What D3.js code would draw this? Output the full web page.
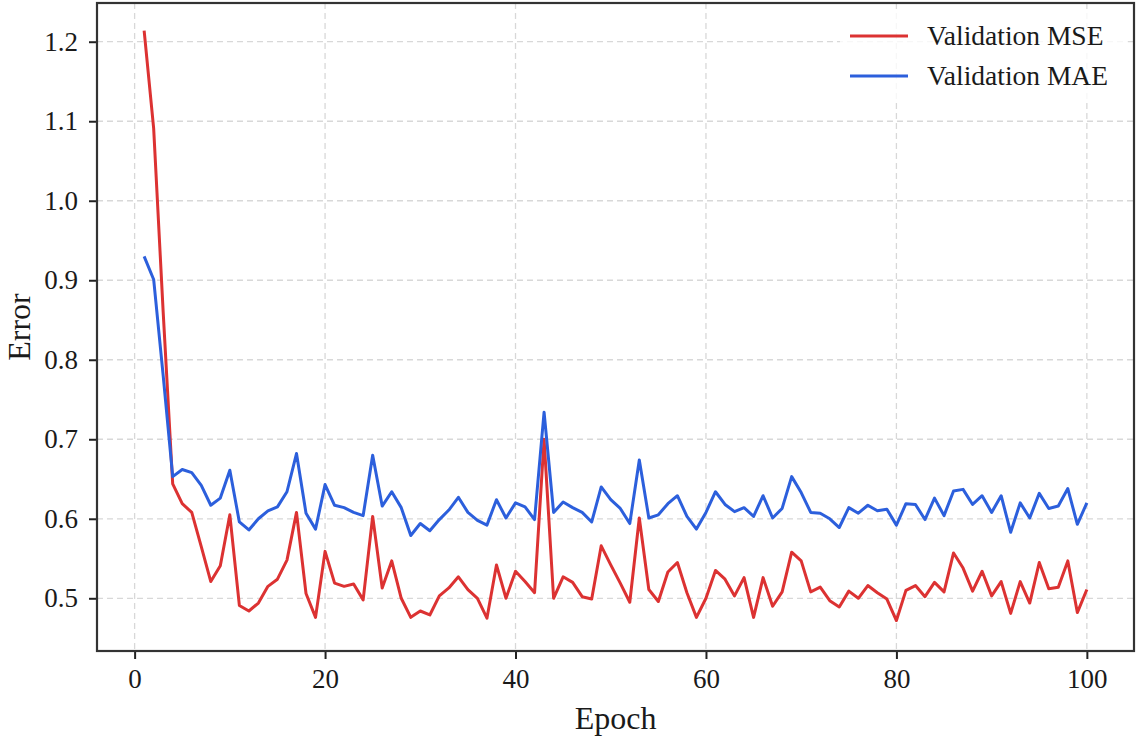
<!DOCTYPE html>
<html>
<head>
<meta charset="utf-8">
<script src="https://cdn.jsdelivr.net/npm/d3@7"></script>
<style>
  html, body { margin: 0; padding: 0; background: #fff; }
  svg { display: block; font-family: "Liberation Serif", "DejaVu Serif", serif; }
</style>
</head>
<body>
<div id="wrapper"></div>
<script>
// epochs 1..100
const epochs = d3.range(1, 101);

const mseValues = [
    1.214, 1.091, 0.860, 0.644, 0.619, 0.608, 0.565, 0.521, 0.541, 0.605,
    0.491, 0.484, 0.494, 0.515, 0.524, 0.548, 0.608, 0.506, 0.476, 0.559,
    0.519, 0.515, 0.518, 0.498, 0.603, 0.513, 0.547, 0.500, 0.476, 0.484,
    0.479, 0.503, 0.513, 0.527, 0.511, 0.500, 0.475, 0.542, 0.500, 0.534,
    0.521, 0.507, 0.700, 0.500, 0.527, 0.520, 0.502, 0.499, 0.566, 0.542,
    0.519, 0.495, 0.601, 0.511, 0.496, 0.533, 0.545, 0.507, 0.476, 0.500,
    0.535, 0.524, 0.503, 0.526, 0.476, 0.526, 0.490, 0.508, 0.558, 0.547,
    0.508, 0.514, 0.497, 0.489, 0.509, 0.500, 0.516, 0.507, 0.499, 0.472,
    0.510, 0.516, 0.502, 0.520, 0.508, 0.557, 0.538, 0.509, 0.534, 0.503,
    0.521, 0.481, 0.521, 0.494, 0.545, 0.512, 0.514, 0.547, 0.482, 0.511
];

const maeValues = [
    0.930, 0.901, 0.780, 0.653, 0.662, 0.658, 0.642, 0.617, 0.626, 0.661,
    0.596, 0.586, 0.600, 0.610, 0.615, 0.634, 0.682, 0.607, 0.587, 0.643,
    0.617, 0.614, 0.608, 0.604, 0.680, 0.616, 0.634, 0.614, 0.579, 0.594,
    0.585, 0.599, 0.611, 0.627, 0.608, 0.598, 0.592, 0.624, 0.601, 0.620,
    0.615, 0.599, 0.734, 0.608, 0.621, 0.614, 0.608, 0.596, 0.640, 0.624,
    0.613, 0.594, 0.674, 0.601, 0.605, 0.619, 0.629, 0.603, 0.587, 0.608,
    0.634, 0.618, 0.609, 0.614, 0.603, 0.629, 0.601, 0.613, 0.653, 0.633,
    0.608, 0.607, 0.600, 0.589, 0.614, 0.607, 0.617, 0.610, 0.612, 0.592,
    0.619, 0.618, 0.599, 0.626, 0.604, 0.635, 0.637, 0.618, 0.629, 0.608,
    0.629, 0.583, 0.620, 0.601, 0.632, 0.613, 0.616, 0.638, 0.593, 0.620
];

const xTicks = [0, 20, 40, 60, 80, 100];
const yTicks = [0.5, 0.6, 0.7, 0.8, 0.9, 1.0, 1.1, 1.2];

const seriesNames = ['Validation MSE', 'Validation MAE'];
const seriesColors = ['#dc3232', '#2c5fdc'];

const dimensions = {
    width: 1137,
    height: 739,
    margin: { top: 3, right: 3, bottom: 88, left: 97 }
};
dimensions.boundedWidth = dimensions.width - dimensions.margin.left - dimensions.margin.right;
dimensions.boundedHeight = dimensions.height - dimensions.margin.top - dimensions.margin.bottom;

const series = seriesNames.map((name, i) => ({
    name: name,
    color: seriesColors[i],
    values: (i === 0 ? mseValues : maeValues).map((v, j) => ({ epoch: epochs[j], value: v }))
}));

const svg = d3.select('#wrapper')
    .append('svg')
    .attr('width', dimensions.width)
    .attr('height', dimensions.height);

const bounds = svg.append('g')
    .attr('transform', `translate(${dimensions.margin.left},${dimensions.margin.top})`);

const xScale = d3.scaleLinear()
    .domain([-3.95, 104.95])
    .range([0, dimensions.boundedWidth]);

const yScale = d3.scaleLinear()
    .domain([0.4337, 1.2487])
    .range([dimensions.boundedHeight, 0]);

// grid
bounds.append('g')
    .selectAll('line')
    .data(xTicks)
    .join('line')
    .attr('x1', d => xScale(d)).attr('x2', d => xScale(d))
    .attr('y1', 0).attr('y2', dimensions.boundedHeight)
    .attr('stroke', '#d8d8d8')
    .attr('stroke-width', 1.3)
    .attr('stroke-dasharray', '6,4');

bounds.append('g')
    .selectAll('line')
    .data(yTicks)
    .join('line')
    .attr('x1', 0).attr('x2', dimensions.boundedWidth)
    .attr('y1', d => yScale(d)).attr('y2', d => yScale(d))
    .attr('stroke', '#d8d8d8')
    .attr('stroke-width', 1.3)
    .attr('stroke-dasharray', '6,4');

// lines
const lineGenerator = d3.line()
    .x(d => xScale(d.epoch))
    .y(d => yScale(d.value));

bounds.append('g')
    .selectAll('path')
    .data(series)
    .join('path')
    .attr('d', d => lineGenerator(d.values))
    .attr('fill', 'none')
    .attr('stroke', d => d.color)
    .attr('stroke-width', 3)
    .attr('stroke-linejoin', 'round');

// axes
const xAxis = bounds.append('g')
    .attr('transform', `translate(0,${dimensions.boundedHeight})`)
    .call(d3.axisBottom(xScale).tickValues(xTicks).tickSize(8).tickPadding(10).tickSizeOuter(0));

const yAxis = bounds.append('g')
    .call(d3.axisLeft(yScale).tickValues(yTicks).tickFormat(d3.format('.1f')).tickSize(8).tickPadding(11).tickSizeOuter(0));

[xAxis, yAxis].forEach(ax => {
    ax.select('.domain').remove();
    ax.selectAll('.tick line').attr('stroke', '#222').attr('stroke-width', 2);
    ax.selectAll('.tick text')
        .attr('fill', '#1a1a1a')
        .style('font-family', '"Liberation Serif", serif')
        .style('font-size', '27px');
});

// frame
bounds.append('rect')
    .attr('x', 0).attr('y', 0)
    .attr('width', dimensions.boundedWidth)
    .attr('height', dimensions.boundedHeight)
    .attr('fill', 'none')
    .attr('stroke', '#333')
    .attr('stroke-width', 2.2);

// axis labels
bounds.append('text')
    .attr('x', dimensions.boundedWidth / 2)
    .attr('y', dimensions.boundedHeight + 78)
    .attr('text-anchor', 'middle')
    .attr('fill', '#1a1a1a')
    .style('font-size', '32px')
    .text('Epoch');

bounds.append('text')
    .attr('transform', `translate(${-dimensions.margin.left + 30},${dimensions.boundedHeight / 2}) rotate(-90)`)
    .attr('text-anchor', 'middle')
    .attr('fill', '#1a1a1a')
    .style('font-size', '32px')
    .text('Error');

// legend
const legend = bounds.append('g')
    .attr('transform', `translate(${dimensions.boundedWidth - 294},10)`);

legend.append('rect')
    .attr('x', 0).attr('y', 0)
    .attr('width', 288).attr('height', 88)
    .attr('fill', '#fff')
    .attr('opacity', 0.8);

const legendItems = legend.selectAll('g.item')
    .data(series)
    .join('g')
    .attr('class', 'item')
    .attr('transform', (d, i) => `translate(0,${23 + i * 40})`);

legendItems.append('line')
    .attr('x1', 10).attr('x2', 68)
    .attr('y1', 0).attr('y2', 0)
    .attr('stroke', d => d.color)
    .attr('stroke-width', 3);

legendItems.append('text')
    .attr('x', 87)
    .attr('y', 9)
    .attr('fill', '#1a1a1a')
    .style('font-size', '27.5px')
    .text(d => d.name);
</script>
</body>
</html>
